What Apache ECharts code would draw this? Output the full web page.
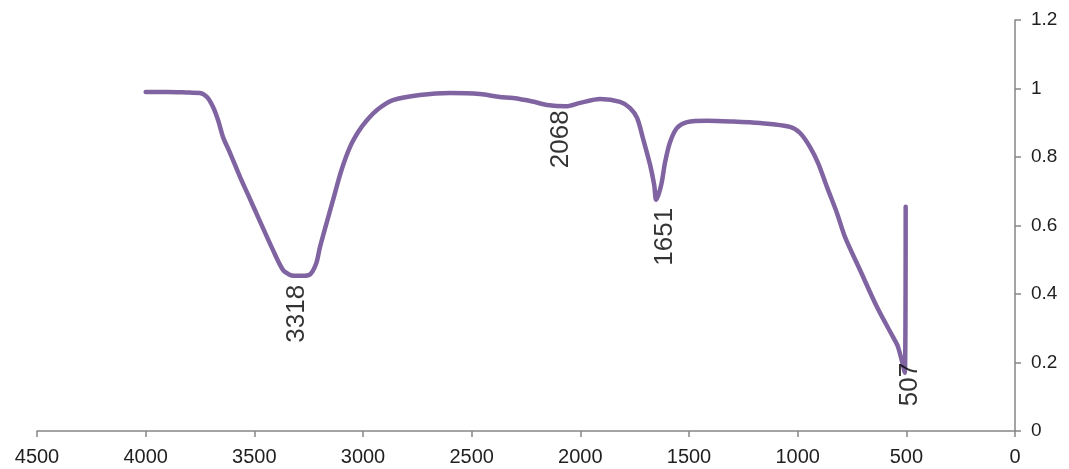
<!DOCTYPE html>
<html>
<head>
<meta charset="utf-8">
<script src="https://cdn.jsdelivr.net/npm/echarts@6/dist/echarts.min.js"></script>
<style>
  html, body { margin: 0; padding: 0; background: #fff; }
  #chart { width: 1069px; height: 469px; }
</style>
</head>
<body>
<div id="chart"></div>
<script>
// FTIR transmittance spectrum: wavenumber (cm-1) and transmittance
const wavenumbers = [
  4000, 3900, 3800, 3750, 3718, 3690, 3667, 3644, 3612, 3566, 3529, 3474, 3414,
  3368, 3340, 3318, 3280, 3244, 3215, 3198, 3138, 3100, 3060, 3020, 2981, 2930,
  2862, 2738, 2600, 2462, 2370, 2310, 2220, 2153, 2068, 2001, 1909, 1817, 1771,
  1739, 1712, 1679, 1660, 1651, 1628, 1610, 1587, 1555, 1509, 1417, 1311, 1173,
  1035, 989, 943, 906, 865, 819, 782, 713, 635, 561, 538, 507, 503
];
const transmittance = [
  0.990, 0.990, 0.988, 0.987, 0.975, 0.946, 0.908, 0.858, 0.812, 0.742, 0.690, 0.612, 0.528,
  0.470, 0.457, 0.453, 0.453, 0.457, 0.490, 0.537, 0.674, 0.760, 0.829, 0.875, 0.908, 0.940,
  0.966, 0.981, 0.987, 0.984, 0.975, 0.972, 0.962, 0.952, 0.948, 0.958, 0.969, 0.961, 0.943,
  0.914, 0.855, 0.777, 0.718, 0.675, 0.718, 0.785, 0.844, 0.885, 0.902, 0.906, 0.904, 0.899,
  0.888, 0.870, 0.829, 0.782, 0.712, 0.636, 0.566, 0.470, 0.362, 0.274, 0.245, 0.170, 0.655
];

// Labelled absorption bands
const peakWavenumbers = [3318, 2068, 1651, 507];
const peakTransmittance = [0.453, 0.948, 0.675, 0.170];

// X axis ticks
const xMin = 0, xMax = 4500, xStep = 500;
// Y axis ticks
const yMin = 0, yMax = 1.2, yStep = 0.2;

const lineColor = '#8064A2';
const axisColor = '#868686';
const textColor = '#1f1f1f';

// on-screen shift of each band label from its point: [right, down] in pixels
const labelShift = [[3, 9], [-5, 4], [9, 8], [5, -10]];

const chart = echarts.init(document.getElementById('chart'), null, { renderer: 'canvas' });

const spectrum = wavenumbers.map((w, i) => [w, transmittance[i]]);
// label offsets are applied in the rotated text frame, so swap the components
const peaks = peakWavenumbers.map((w, i) => ({
  value: [w, peakTransmittance[i]],
  label: { offset: [-labelShift[i][1], labelShift[i][0]] }
}));

chart.setOption({
  animation: false,
  grid: { left: 37, right: 54, top: 20, bottom: 38, containLabel: false },
  xAxis: {
    type: 'value',
    inverse: true,
    min: xMin,
    max: xMax,
    interval: xStep,
    splitLine: { show: false },
    axisLine: { lineStyle: { color: axisColor, width: 1.5 } },
    axisTick: { show: true, length: 6, inside: false, lineStyle: { color: axisColor, width: 1.5 } },
    axisLabel: {
      color: textColor,
      fontFamily: 'Liberation Sans, Arial, sans-serif',
      fontSize: 20,
      margin: 16,
      formatter: v => String(v)
    }
  },
  yAxis: {
    type: 'value',
    position: 'right',
    min: yMin,
    max: yMax,
    interval: yStep,
    splitLine: { show: false },
    axisLine: { show: true, onZero: false, lineStyle: { color: axisColor, width: 1.5 } },
    axisTick: { show: true, length: 6, inside: false, lineStyle: { color: axisColor, width: 1.5 } },
    axisLabel: {
      color: textColor,
      fontFamily: 'Liberation Sans, Arial, sans-serif',
      fontSize: 19,
      margin: 16,
      formatter: v => String(Math.round(v * 10) / 10)
    }
  },
  series: [
    {
      type: 'line',
      data: spectrum,
      showSymbol: false,
      smooth: 0.3,
      lineStyle: { color: lineColor, width: 4.5, cap: 'round', join: 'round' },
      itemStyle: { color: lineColor },
      z: 2
    },
    {
      type: 'scatter',
      data: peaks,
      symbolSize: 0,
      silent: true,
      label: {
        show: true,
        position: 'bottom',
        distance: 0,
        rotate: 90,
        align: 'right',
        verticalAlign: 'middle',
        color: '#000',
        fontFamily: 'Liberation Sans, Arial, sans-serif',
        fontSize: 26,
        formatter: p => String(p.value[0])
      },
      z: 3
    }
  ]
});
</script>
</body>
</html>
